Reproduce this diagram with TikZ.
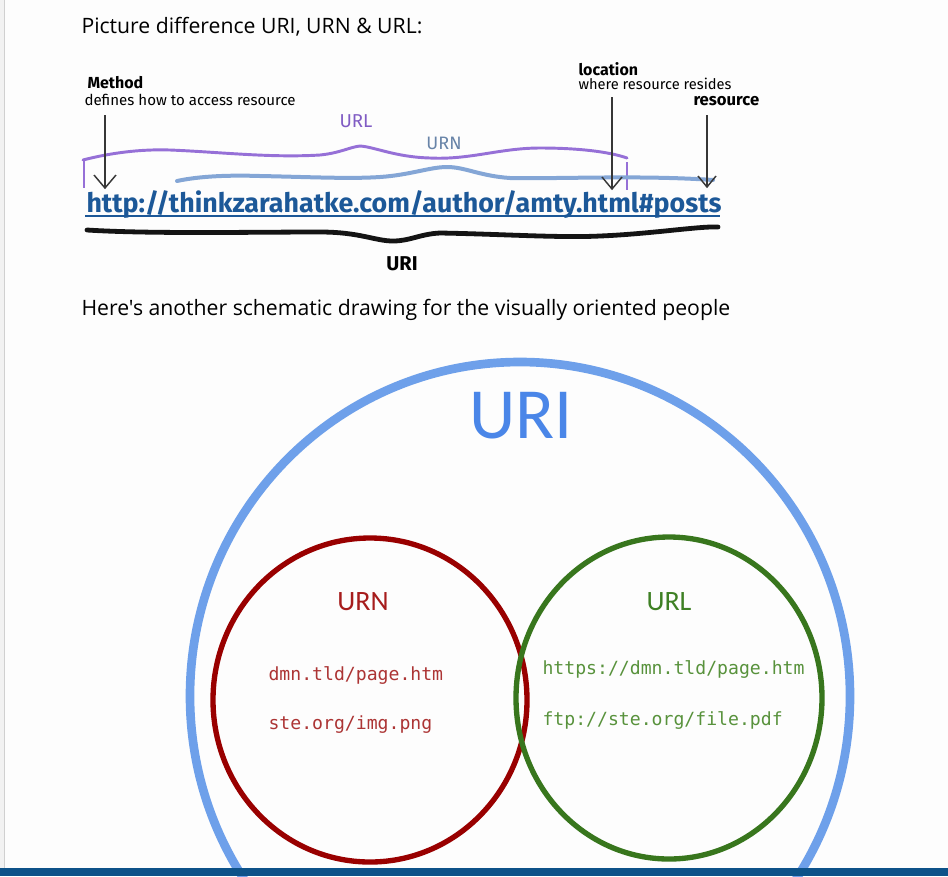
\documentclass[tikz,border=0pt]{standalone}
\usepackage{fontspec}
\setmainfont{Open Sans}[Ligatures=TeXOff]
\newfontfamily\handfont{Fira Sans}
\newfontfamily\slidefont{Carlito}
\newfontfamily\codefont{DejaVu Sans Mono}

\tikzset{every picture/.style={line width=0.75pt}}

\begin{document}
\begin{tikzpicture}[x=0.75pt,y=0.75pt,yscale=-1,xscale=1]
	\useasboundingbox (0,0) rectangle (948,876);
	\clip (0,0) rectangle (948,876);
	%set diagram left start at 0, and has height of 876

	%Shape: Rectangle [page margin]
	\fill [color={rgb, 255:red, 253; green, 253; blue, 253 }] (0,0) rectangle (948,876);
	\fill [color={rgb, 255:red, 242; green, 242; blue, 242 }] (0,0) rectangle (4,868);
	\draw [color={rgb, 255:red, 208; green, 208; blue, 208 }, line width=1pt] (4.5,0) -- (4.5,868);

	% Text Node
	\node (title) [anchor=west, inner sep=0pt, font=\fontsize{15.9}{19}\selectfont] at (81,27) {Picture difference URI, URN \& URL:};

	%Curve Lines [URL brace]
	\draw [color={rgb, 255:red, 150; green, 112; blue, 215 }, line width=2.2pt, line cap=round]
		(83,160) .. controls (110,153) and (140,149) .. (170,150) .. controls (220,152) and (270,158) .. (320,155) .. controls (340,153) and (350,147) .. (360,146) .. controls (375,147) and (395,157) .. (430,158) .. controls (470,160) and (500,148) .. (540,148) .. controls (580,148) and (610,152) .. (627,158) ;
	\draw [color={rgb, 255:red, 150; green, 112; blue, 215 }, line width=1.2pt] (84,161) -- (84,188) ;
	\draw [color={rgb, 255:red, 150; green, 112; blue, 215 }, line width=1.2pt] (627,162) -- (627,190) ;
	%Curve Lines [URN brace]
	\draw [color={rgb, 255:red, 132; green, 166; blue, 214 }, line width=3pt, line cap=round]
		(177,181) .. controls (200,176) and (230,175) .. (260,176) .. controls (310,177) and (350,179) .. (380,177) .. controls (410,175) and (430,167) .. (447,167) .. controls (465,167) and (480,176) .. (510,178) .. controls (560,179) and (640,175) .. (713,180) ;
	%Curve Lines [URI brace]
	\draw [color={rgb, 255:red, 20; green, 20; blue, 20 }, line width=3.6pt, line cap=round]
		(87,230) .. controls (150,234) and (250,232) .. (320,232) .. controls (360,232) and (375,241) .. (393,241) .. controls (410,241) and (420,234) .. (440,233) .. controls (500,234) and (560,238) .. (600,236) .. controls (650,234) and (700,226) .. (718,227) ;

	% Text Node
	\node (method) [anchor=west, inner sep=0pt, font=\handfont\bfseries\fontsize{12}{14}\selectfont] at (87,83) {Method};
	\node (methoddesc) [anchor=west, inner sep=0pt, font=\handfont\fontsize{11.3}{13}\selectfont] at (84,100) {defines how to access resource};
	\node (location) [anchor=west, inner sep=0pt, font=\handfont\bfseries\fontsize{12}{14}\selectfont] at (578,69) {location};
	\node (locationdesc) [anchor=west, inner sep=0pt, font=\handfont\fontsize{11}{13}\selectfont] at (578,84) {where resource resides};
	\node (resource) [anchor=west, inner sep=0pt, font=\handfont\bfseries\fontsize{12.5}{15}\selectfont] at (693,101) {resource};
	\node (urllabel) [color={rgb, 255:red, 128; green, 92; blue, 196 }, font=\handfont\fontsize{14}{16}\selectfont] at (356,121) {URL};
	\node (urnlabel) [color={rgb, 255:red, 104; green, 132; blue, 168 }, font=\handfont\fontsize{13.5}{16}\selectfont] at (444,143) {URN};
	\node (urilabel) [font=\handfont\bfseries\fontsize{15}{18}\selectfont] at (402,264) {URI};
	\node (address) [anchor=base west, inner sep=0pt, color={rgb, 255:red, 28; green, 88; blue, 152 }, font=\handfont\bfseries\fontsize{20.1}{24}\selectfont] at (86,212) {http://thinkzarahatke.com/author/amty.html\#posts};

	%Straight Lines [underline]
	\coordinate (ulstart) at (85,216);
	\coordinate (ulend) at (720,216);
	\draw [color={rgb, 255:red, 28; green, 88; blue, 152 }, line width=1.1pt] (ulstart) -- (ulend) ;

	%Straight Lines [arrows]
	\coordinate (mtop) at (105,115);
	\coordinate (mtip) at (105,188);
	\coordinate (ltop) at (612,97);
	\coordinate (ltip) at (612,189);
	\coordinate (rtop) at (707,115);
	\coordinate (rtip) at (707,187);
	\draw [color={rgb, 255:red, 55; green, 55; blue, 55 }, line width=1.1pt] (mtop) -- (mtip) ;
	\draw [shift={(mtip)}, color={rgb, 255:red, 55; green, 55; blue, 55 }, line width=1.1pt] (-11,-13) -- (0,0) -- (11,-13) ;
	\draw [color={rgb, 255:red, 55; green, 55; blue, 55 }, line width=1.1pt] (ltop) -- (ltip) ;
	\draw [shift={(ltip)}, color={rgb, 255:red, 55; green, 55; blue, 55 }, line width=1.1pt] (-10,-12) -- (0,0) -- (10,-12) ;
	\draw [color={rgb, 255:red, 55; green, 55; blue, 55 }, line width=1.1pt] (rtop) -- (rtip) ;
	\draw [shift={(rtip)}, color={rgb, 255:red, 55; green, 55; blue, 55 }, line width=1.1pt] (-9,-11) -- (0,0) -- (9,-11) ;

	% Text Node
	\node (subtitle) [anchor=west, inner sep=0pt, font=\fontsize{15.9}{19}\selectfont] at (81,310) {Here's another schematic drawing for the visually oriented people};

	%Shape: Ellipse [URI]
	\draw [color={rgb, 255:red, 110; green, 160; blue, 234 }, line width=6.5pt] (520,696) ellipse [x radius=330, y radius=334] ;
	%Shape: Ellipse [URN]
	\draw [color={rgb, 255:red, 153; green, 0; blue, 0 }, line width=4pt] (370,700) ellipse [x radius=157, y radius=162] ;
	%Shape: Ellipse [URL]
	\draw [color={rgb, 255:red, 56; green, 118; blue, 29 }, line width=4pt] (669,698) ellipse [x radius=153, y radius=161] ;

	% Text Node
	\node (uri) [color={rgb, 255:red, 74; green, 134; blue, 232 }, font=\slidefont\fontsize{54}{60}\selectfont] at (521,416) {URI};
	\node (urn) [color={rgb, 255:red, 166; green, 28; blue, 28 }, font=\slidefont\fontsize{21}{25}\selectfont] at (363,602) {URN};
	\node (url) [color={rgb, 255:red, 62; green, 128; blue, 36 }, font=\slidefont\fontsize{21}{25}\selectfont] at (669,602) {URL};
	\node (urnone) [anchor=west, inner sep=0pt, color={rgb, 255:red, 172; green, 52; blue, 52 }, font=\codefont\fontsize{13.6}{16}\selectfont] at (268,675) {dmn.tld/page.htm};
	\node (urntwo) [anchor=west, inner sep=0pt, color={rgb, 255:red, 172; green, 52; blue, 52 }, font=\codefont\fontsize{13.6}{16}\selectfont] at (268,725) {ste.org/img.png};
	\node (urlone) [anchor=west, inner sep=0pt, color={rgb, 255:red, 88; green, 146; blue, 60 }, font=\codefont\fontsize{13.6}{16}\selectfont] at (542,669) {https://dmn.tld/page.htm};
	\node (urltwo) [anchor=west, inner sep=0pt, color={rgb, 255:red, 88; green, 146; blue, 60 }, font=\codefont\fontsize{13.6}{16}\selectfont] at (542,720) {ftp://ste.org/file.pdf};

	%Shape: Rectangle [status bar]
	\fill [color={rgb, 255:red, 13; green, 82; blue, 137 }] (0,868) rectangle (948,876);

\end{tikzpicture}
\end{document}
